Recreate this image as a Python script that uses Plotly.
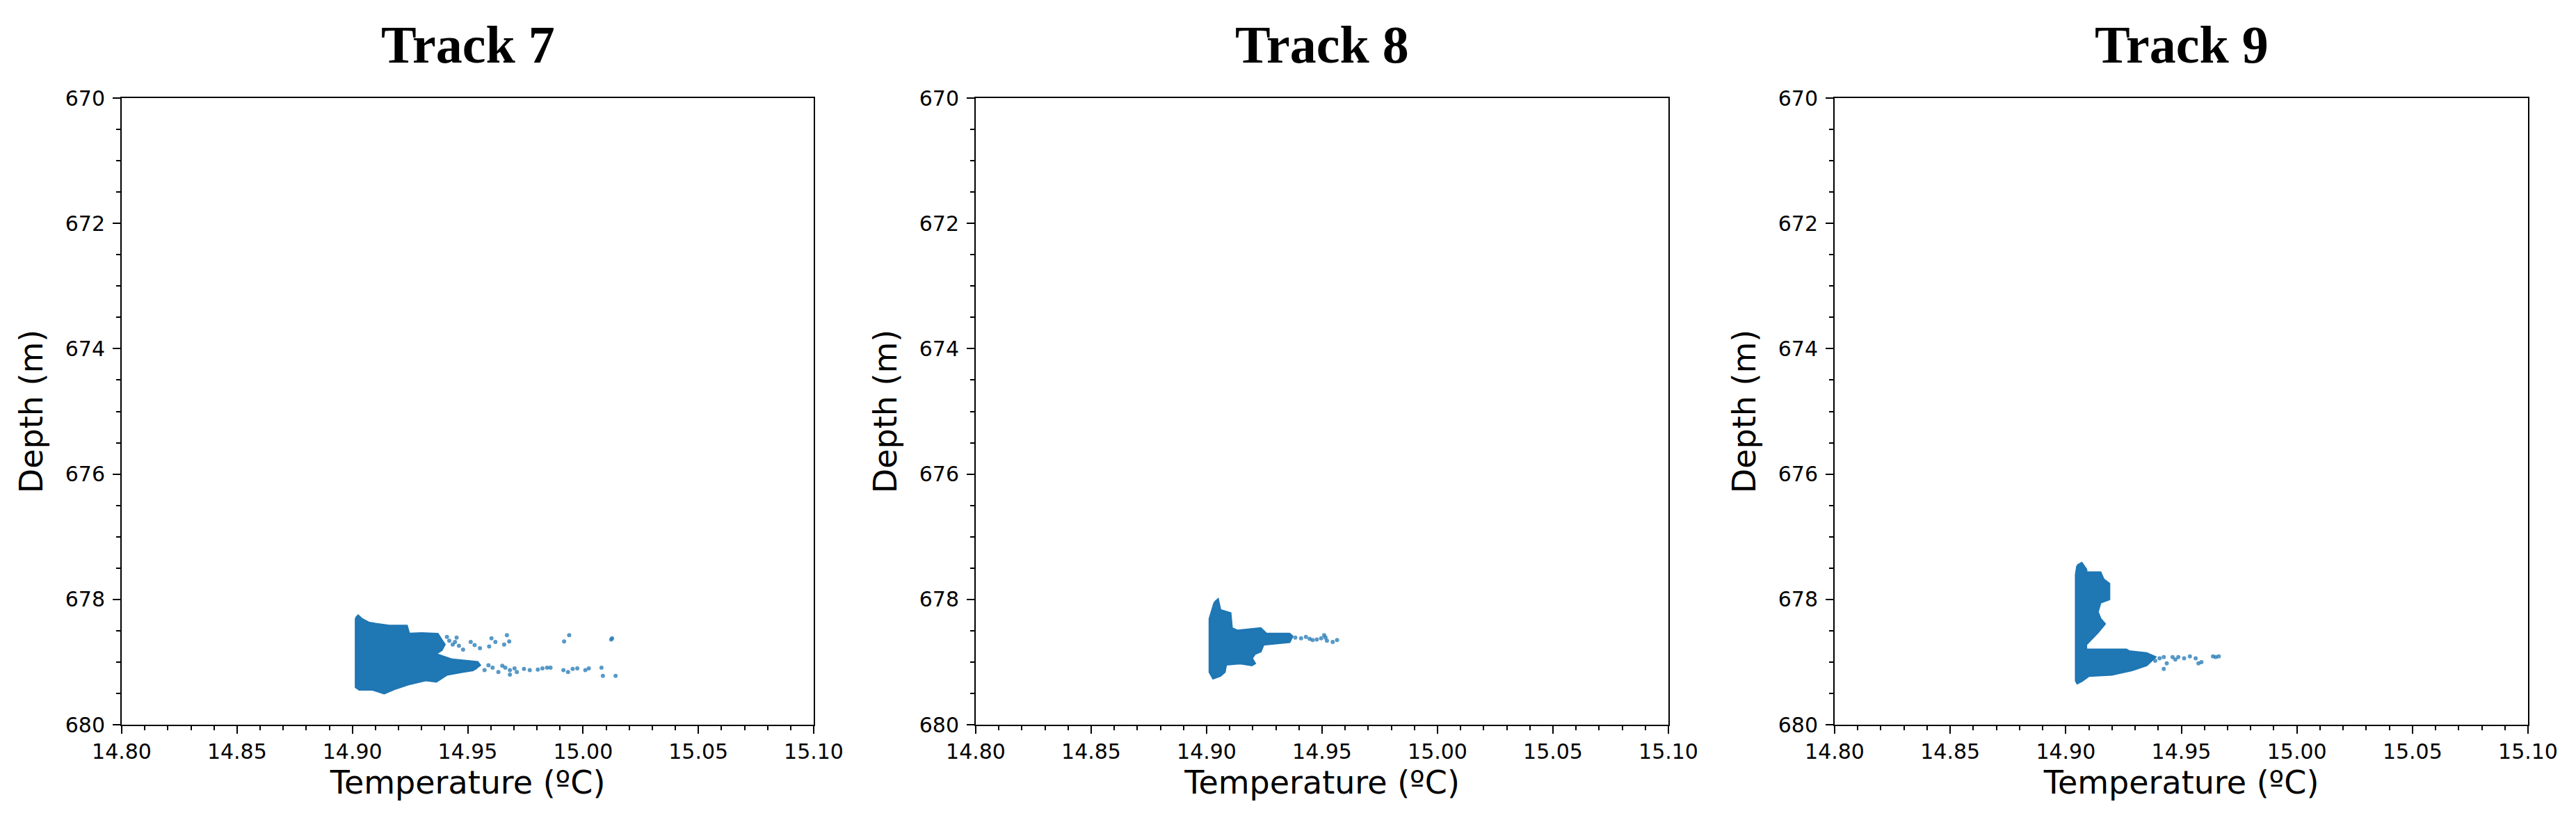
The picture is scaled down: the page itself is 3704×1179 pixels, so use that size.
import plotly.graph_objects as go

# ---------------- data ----------------
titles = ["Track 7", "Track 8", "Track 9"]
x_ticks = [14.80, 14.85, 14.90, 14.95, 15.00, 15.05, 15.10]
x_tick_labels = ["14.80", "14.85", "14.90", "14.95", "15.00", "15.05", "15.10"]
y_ticks = [670, 672, 674, 676, 678, 680]
y_tick_labels = ["670", "672", "674", "676", "678", "680"]

# outline of the dense (saturated) part of each point cloud
t7_core_T = [14.9015, 14.9025, 14.9040, 14.9070, 14.9100, 14.9160, 14.9236, 14.9246, 14.9300, 14.9370,
             14.9387, 14.9400, 14.9387, 14.9360, 14.9432, 14.9483, 14.9543, 14.9553, 14.9523, 14.9472,
             14.9410, 14.9364, 14.9318, 14.9248, 14.9190, 14.9138, 14.9088, 14.9030, 14.9015]
t7_core_D = [678.30, 678.26, 678.31, 678.37, 678.39, 678.42, 678.42, 678.55, 678.54, 678.55,
             678.65, 678.72, 678.81, 678.87, 678.96, 678.98, 679.00, 679.05, 679.13, 679.16,
             679.20, 679.31, 679.29, 679.35, 679.42, 679.50, 679.44, 679.44, 679.40]
# sparse individual points
t7_pts_T = [14.9452, 14.9480, 14.9513, 14.9530, 14.9553, 14.9593, 14.9603, 14.9620, 14.9658, 14.9670,
            14.9680, 14.9918, 14.9940, 15.0126, 15.0122, 14.9420, 14.9435, 14.9445, 14.9462, 14.9410,
            14.9533, 14.9573, 14.9608, 14.9633, 14.9663, 14.9683, 14.9683, 14.9703, 14.9713, 14.9744,
            14.9769, 14.9804, 14.9824, 14.9844, 14.9859, 14.9915, 14.9935, 14.9955, 14.9975, 15.0010,
            15.0025, 15.0080, 15.0086, 15.0141, 14.9590, 14.9650]
t7_pts_D = [678.61, 678.80, 678.68, 678.73, 678.78, 678.75, 678.62, 678.68, 678.72, 678.57,
            678.67, 678.67, 678.57, 678.62, 678.64, 678.66, 678.72, 678.68, 678.74, 678.60,
            679.09, 679.13, 679.09, 679.16, 679.09, 679.13, 679.20, 679.10, 679.16, 679.11,
            679.13, 679.12, 679.10, 679.09, 679.09, 679.13, 679.16, 679.11, 679.10, 679.13,
            679.10, 679.09, 679.22, 679.22, 679.05, 679.06]

t8_core_T = [14.9034, 14.9049, 14.9059, 14.9103, 14.9109, 14.9134, 14.9234, 14.9259, 14.9359, 14.9371,
             14.9359, 14.9309, 14.9246, 14.9234, 14.9209, 14.9196, 14.9209, 14.9196, 14.9146, 14.9084,
             14.9078, 14.9059, 14.9028, 14.9013, 14.9013]
t8_core_D = [678.05, 678.00, 678.17, 678.22, 678.46, 678.50, 678.46, 678.55, 678.55, 678.59,
             678.68, 678.70, 678.72, 678.83, 678.87, 678.94, 679.02, 679.05, 679.02, 679.04,
             679.16, 679.22, 679.26, 679.16, 678.31]
t8_pts_T = [14.9384, 14.9409, 14.9430, 14.9446, 14.9459, 14.9477, 14.9496, 14.9509, 14.9515, 14.9521,
            14.9546, 14.9565]
t8_pts_D = [678.61, 678.62, 678.60, 678.63, 678.65, 678.64, 678.62, 678.57, 678.61, 678.66,
            678.68, 678.65]

t9_core_T = [14.9050, 14.9069, 14.9088, 14.9090, 14.9150, 14.9163, 14.9188, 14.9188, 14.9150, 14.9138,
             14.9150, 14.9169, 14.9138, 14.9088, 14.9088, 14.9262, 14.9275, 14.9350, 14.9387, 14.9350,
             14.9287, 14.9200, 14.9100, 14.9070, 14.9050, 14.9044, 14.9044]
t9_core_D = [677.46, 677.42, 677.52, 677.57, 677.57, 677.68, 677.75, 678.00, 678.05, 678.20,
             678.31, 678.39, 678.53, 678.72, 678.80, 678.80, 678.83, 678.86, 678.92, 679.05,
             679.13, 679.20, 679.22, 679.30, 679.34, 679.30, 677.60]
t9_pts_T = [14.9375, 14.9387, 14.9406, 14.9424, 14.9437, 14.9462, 14.9474, 14.9487, 14.9512, 14.9537,
            14.9424, 14.9562, 14.9574, 14.9587, 14.9637, 14.9649, 14.9662]
t9_pts_D = [678.92, 678.98, 678.94, 678.92, 679.02, 678.92, 678.96, 678.92, 678.94, 678.91,
            679.11, 678.94, 679.02, 679.00, 678.91, 678.92, 678.91]

cores = [(t7_core_T, t7_core_D), (t8_core_T, t8_core_D), (t9_core_T, t9_core_D)]
points = [(t7_pts_T, t7_pts_D), (t8_pts_T, t8_pts_D), (t9_pts_T, t9_pts_D)]

# ---------------- figure ----------------
PAGE_W, PAGE_H = 3704, 1179
OFF = 8                      # default body margin of the html page
W, H = PAGE_W - 2 * OFF, PAGE_H - 2 * OFF
blue = "#1f77b4"


def px_x(p):
    return (p - OFF) / W


def px_y(p):
    return 1 - (p - OFF) / H


x_domains = [[px_x(175), px_x(1170)], [px_x(1403), px_x(2399)], [px_x(2638), px_x(3635)]]
y_domain = [px_y(1042), px_y(141)]

fig = go.Figure()
for i in range(3):
    xa = "x" if i == 0 else f"x{i+1}"
    ya = "y" if i == 0 else f"y{i+1}"
    cT, cD = cores[i]
    fig.add_trace(go.Scatter(x=cT + [cT[0]], y=cD + [cD[0]], mode="lines", fill="toself",
                             fillcolor=blue, line=dict(color=blue, width=3),
                             xaxis=xa, yaxis=ya, showlegend=False, hoverinfo="skip"))
    pT, pD = points[i]
    fig.add_trace(go.Scatter(x=pT, y=pD, mode="markers",
                             marker=dict(color=blue, size=6, opacity=0.75, line=dict(width=0)),
                             xaxis=xa, yaxis=ya, showlegend=False))

tick_font = dict(family="DejaVu Sans", size=30, color="black")
title_font = dict(family="DejaVu Sans", size=46, color="black")
layout = dict(width=W, height=H, margin=dict(l=0, r=0, t=0, b=0, autoexpand=False),
              paper_bgcolor="white", plot_bgcolor="white", showlegend=False, annotations=[])
for i in range(3):
    sx = "" if i == 0 else str(i + 1)
    layout[f"xaxis{sx}"] = dict(
        domain=x_domains[i], range=[14.80, 15.10], anchor=f"y{sx}", automargin=False,
        tickmode="array", tickvals=x_ticks, ticktext=x_tick_labels,
        ticks="outside", ticklen=11, tickwidth=2, tickcolor="black",
        minor=dict(tickmode="linear", tick0=14.80, dtick=0.01, ticks="outside", ticklen=6, tickwidth=1.6, tickcolor="black"),
        showline=True, linewidth=2, linecolor="black", mirror=True,
        showgrid=False, zeroline=False, tickfont=tick_font,
        title=dict(text="Temperature (ºC)", font=title_font, standoff=12))
    layout[f"yaxis{sx}"] = dict(
        domain=y_domain, range=[680, 670], anchor=f"x{sx}", automargin=False,
        tickmode="array", tickvals=y_ticks, ticktext=y_tick_labels,
        ticks="outside", ticklen=11, tickwidth=2, tickcolor="black", ticklabelstandoff=5,
        minor=dict(tickmode="linear", tick0=670, dtick=0.5, ticks="outside", ticklen=6, tickwidth=1.6, tickcolor="black"),
        showline=True, linewidth=2, linecolor="black", mirror=True,
        showgrid=False, zeroline=False, tickfont=tick_font,
        title=dict(text="Depth (m)", font=title_font, standoff=18))
    layout["annotations"].append(dict(
        text=f"<b>{titles[i]}</b>", x=sum(x_domains[i]) / 2, y=px_y(108),
        xref="paper", yref="paper", xanchor="center", yanchor="bottom", showarrow=False,
        font=dict(family="Liberation Serif", size=76, color="black")))

fig.update_layout(**layout)
fig.write_html("out.html")
